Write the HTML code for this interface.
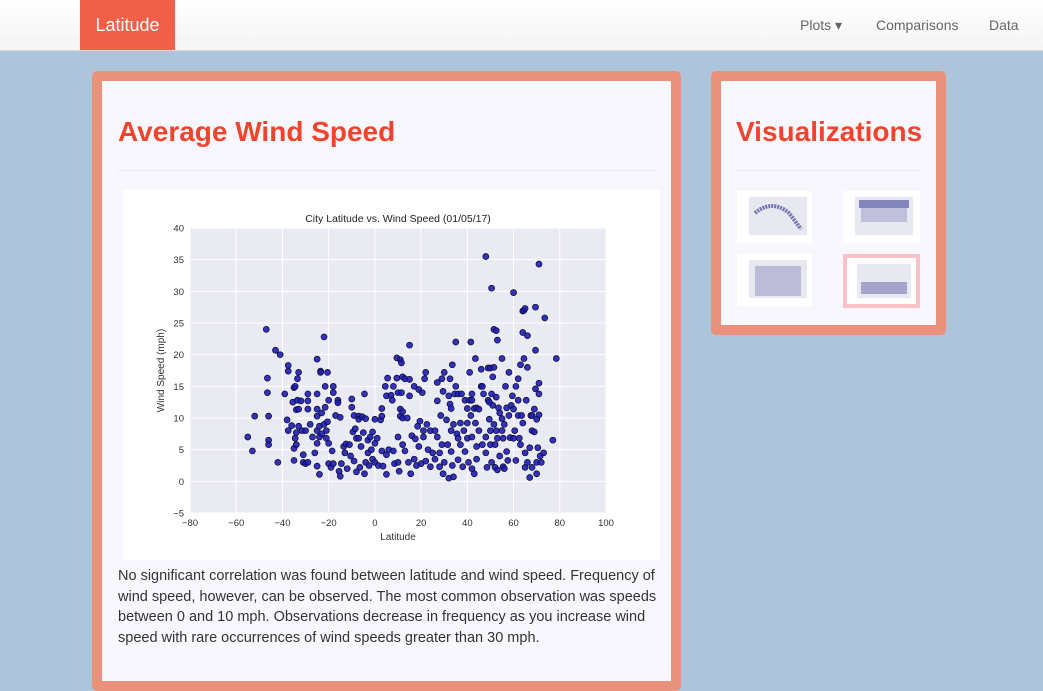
<!DOCTYPE html>
<html><head><meta charset="utf-8"><style>
body{margin:0;width:1043px;height:680px;overflow:hidden;background:#adc4db;font-family:"Liberation Sans",sans-serif;position:relative}
.nav{position:absolute;left:0;top:0;width:1043px;height:50px;background:linear-gradient(#fff,#f4f4f4);border-bottom:1px solid #d8d8d8}
.brand{position:absolute;left:80px;top:0;width:95px;height:50px;background:#f05f48;color:#fff;font-size:18px;line-height:50px;text-align:center}
.ni{position:absolute;top:17px;font-size:14px;color:#666}
.panel{position:absolute;background:#f8f7fe;border:10px solid #ea917b;border-radius:5px;box-sizing:border-box}
h1{position:absolute;margin:0;font-weight:bold;color:#f2442c;font-size:28px}
.hr{position:absolute;height:1px;background:#e6e6ec}
p{position:absolute;margin:0;font-size:14.5px;line-height:20.5px;color:#333}
.th{position:absolute;background:#fff}
</style></head><body>
<div class="nav">
<div class="brand">Latitude</div>
<div class="ni" style="left:800px">Plots ▾</div>
<div class="ni" style="left:876px">Comparisons</div>
<div class="ni" style="left:989px">Data</div>
</div>
<div class="panel" style="left:92px;top:71px;width:589px;height:620px"></div>
<h1 style="left:118px;top:116px">Average Wind Speed</h1>
<div class="hr" style="left:118px;top:170px;width:538px"></div>
<svg id="chart" style="position:absolute;left:123px;top:190px" width="537" height="370"></svg>
<p style="left:118px;top:566px;width:540px">No significant correlation was found between latitude and wind speed. Frequency of wind speed, however, can be observed. The most common observation was speeds between 0 and 10 mph. Observations decrease in frequency as you increase wind speed with rare occurrences of wind speeds greater than 30 mph.</p>
<div class="panel" style="left:711px;top:71px;width:235px;height:264px"></div>
<h1 style="left:736px;top:116px">Visualizations</h1>
<div class="hr" style="left:737px;top:170px;width:183px"></div>
<svg class="th" style="left:737px;top:191px" width="75" height="52"><rect x="12" y="6" width="58" height="38" fill="#e8e8f0"/><path d="M18 22 Q35 8 52 22 L64 38" stroke="#22228a" stroke-width="4" fill="none" opacity=".6" stroke-dasharray="2 1"/></svg>
<svg class="th" style="left:843px;top:191px" width="77" height="52"><rect x="12" y="6" width="58" height="38" fill="#e8e8f0"/><rect x="16" y="9" width="50" height="8" fill="#22228a" opacity=".5"/><rect x="18" y="17" width="46" height="14" fill="#22228a" opacity=".2"/></svg>
<svg class="th" style="left:737px;top:254px" width="75" height="52"><rect x="12" y="6" width="58" height="38" fill="#e8e8f0"/><rect x="18" y="12" width="46" height="30" fill="#22228a" opacity=".22"/></svg>
<svg class="th" style="left:843px;top:254px;outline:4px solid #fbc0c8;outline-offset:-4px" width="77" height="54"><rect x="14" y="10" width="54" height="34" fill="#e8e8f0"/><rect x="18" y="28" width="46" height="12" fill="#22228a" opacity=".35"/></svg>
<script>
const lats=[-55,-53,-52,-47,-46.5,-46.5,-46,-46,-46,-43,-42,-41,-39,-38,-37.5,-37.5,-37.5,-36,-35.5,-35,-35,-35,-34.5,-34.5,-34,-34,-34,-33.5,-33.5,-33,-33,-33,-32,-31.5,-31,-31,-30,-30,-29,-29,-29,-29,-28,-27,-26,-25,-25,-25,-25,-25,-25,-25,-24,-24,-24,-23.5,-23.5,-23,-23,-22,-22,-21.5,-21.5,-21,-21,-20.5,-20.5,-20,-20,-20,-19,-18.5,-18,-18,-18,-17,-16,-16,-15.5,-15,-15,-14.5,-13.5,-13,-12.5,-12,-11,-10.5,-10,-10,-9.5,-9,-9,-8.5,-8,-8,-7,-7,-7,-6.5,-6,-5.5,-5,-4.5,-4.5,-4,-4,-3,-3,-2.5,-2,-1.5,-1,-1,0,0,0,1,1.5,2.5,3,3,3,3.5,4.5,5,5,5,5.5,6,7,7.5,8,8,8.5,9.5,9.5,10,10,10,10.5,11,11,11,11.5,11.5,12,12,12,12,13,13,14,14.5,15,15,15,15.5,16,17,17,17.5,18,18.5,19,19,19.5,20,20.5,21,21,21.5,22,22,22.5,23,24,24,25,26,26,27,27,27,28,28,28.5,29,29,29.5,29.5,30,30,31,31.5,32,32,32.5,32.5,33,33,33,33.5,33.5,34,34,34.5,35,35,35.5,36,36,36,37,37,37.5,38,38.5,39,39,40,40,40,40.5,41,41,41.5,41.5,42,42,42,42,43,43,43.5,43.5,44,44,44,45,45,46,46,46.5,46.5,47,48,48,48,48.5,49,49,49.5,49.5,50,50,50,50.5,50.5,50.5,51,51,51.5,51.5,51.5,52,52,52.5,52.5,52.5,53,53,53,53.5,54,54,55,55,55,55.5,55.5,56,56,56.5,57,57,57.5,58,58,58.5,59,59.5,60,60,60,60.5,61,61,62,62,62,62.5,63,63,63.5,64,64,64,64.5,64.5,65,65,65,65.5,66,66,66,67,67,67.5,68,68,68,69,69,69.5,69.5,69.5,70,70,70,70.5,71,71,71,71,71.5,72,73,73.5,77,78.5];
const winds=[7,4.8,10.3,24,16.3,14,10.3,6.5,5.8,20.7,3,20,13.8,9.7,18.3,17.4,8,8.8,12.5,14.8,5.2,3.3,15,6.8,5.8,7.7,11.3,16.2,12.8,17.2,11.4,8.7,12.7,8,4.2,3,8,2.8,13.8,12.7,11.4,3,9,7,4.5,19.3,13.8,11.4,10.3,8,6,2.4,7,8.7,1.1,17.4,17.2,10.8,7.5,22.8,9,11.7,15,8,6.8,17.2,9.4,12.8,6,2.8,2.2,4.8,15,14,2.8,10.4,12.8,12.4,1.6,0.8,10.1,2.8,5.5,4.5,5.9,2,5.8,4,13,11.7,7.8,10.4,3.2,8.3,6.8,1.5,10.3,9.8,6.8,2.2,5.5,10.2,7.7,13.8,1.2,9.9,3,6.5,4.5,2.5,7,5,7.8,3.5,9.8,6,3,6.8,2.5,9.7,11.5,10.3,4.8,2.4,15,13.5,4.2,1.1,16.3,5,13.6,12.8,15,4.8,2.8,19.5,16.3,14,7,3,1.6,19.2,11.4,10.3,18.7,14,16.5,11,10,5.8,16.2,4.8,10,3,21.5,16.1,13.5,1.2,7.2,15,3.5,6.7,2.5,8.7,14.5,5.5,9.5,2.8,14,8,7,16.2,17.2,3.2,9,5,2.3,8,4.5,8,3.5,15.6,12.7,7,4.5,2.3,10.4,16.2,5.8,14.2,1.2,17.2,3,9.7,5.8,13.5,0.5,16.2,12.2,11.5,8,4.7,18.4,2.5,0.7,9,13.8,15,22,7.5,13.8,6.8,3.4,9.2,5.8,13.8,2.3,8,12.8,4.7,11.5,6.8,9.2,3,17.2,12.8,22,10.4,13.8,12.8,7,2,11.5,1.2,19.4,9.2,11.6,5.5,3.5,8,11.4,15,17.7,15,5.8,13.8,35.5,7,4.5,2.2,12.8,17.9,12.5,9.8,8,17.9,5.8,30.5,13.8,3,12,16.5,24,18,9,5.8,2.2,23.8,13.3,8,22.3,6.8,1.8,11.6,10.8,4,19.4,9.9,8,2.3,6.8,9,2,15,11.6,4.7,3.3,17.2,10.4,6.9,12,13.5,29.8,11.4,6.8,8,15,3.3,16.2,12.8,10.4,6.8,18.4,5.8,10.4,26.9,23.5,9.2,19.4,27,27.3,4.5,2.2,12.8,23,18,3,0.6,5.3,10.4,10.4,8,2.2,7.8,11.4,27.5,20.7,14.6,9.8,1.2,3,5.3,34.3,15.5,13.8,10.5,4,3,4.5,25.8,6.5,19.4];
const xTicks=[-80,-60,-40,-20,0,20,40,60,80,100];
const yTicks=[-5,0,5,10,15,20,25,30,35,40];
const svg=document.getElementById('chart'),NS='http://www.w3.org/2000/svg';
const L=67,T=38,W=416,H=285;
const sx=v=>L+(v+80)/180*W, sy=v=>T+(40-v)/45*H;
function mk(t,a,txt){const e=document.createElementNS(NS,t);for(const k in a)e.setAttribute(k,a[k]);if(txt!==undefined)e.textContent=txt;svg.appendChild(e);return e;}
let bg=mk('rect',{x:0,y:0,width:537,height:370,fill:'#fff'});


let pa=mk('rect',{x:L,y:T,width:W,height:H,fill:'#eaeaf2'});


xTicks.forEach(v=>{mk('line',{x1:sx(v),x2:sx(v),y1:T,y2:T+H,stroke:'#fff','stroke-width':1});
let t=mk('text',{x:sx(v),y:T+H+13,'font-size':9.5,'text-anchor':'middle',fill:'#333'},v<0?'\u2212'+(-v):v);

});
yTicks.forEach(v=>{mk('line',{x1:L,x2:L+W,y1:sy(v),y2:sy(v),stroke:'#fff','stroke-width':1});
let t=mk('text',{x:L-6,y:sy(v)+3.5,'font-size':9.5,'text-anchor':'end',fill:'#333'},v<0?'\u2212'+(-v):v);

});
lats.forEach((la,i)=>{let c=mk('circle',{cx:sx(la),cy:sy(winds[i]),r:3,fill:'#1e1eb4','fill-opacity':0.9,stroke:'#0a0a30','stroke-width':0.7});

});
let tt=mk('text',{x:L+W/2,y:T-6,'font-size':10.5,'text-anchor':'middle',fill:'#222'},'City Latitude vs. Wind Speed (01/05/17)');


let xt=mk('text',{x:L+W/2,y:T+H+27,'font-size':10,'text-anchor':'middle',fill:'#333'},'Latitude');


let yt=mk('text',{x:0,y:0,'font-size':10,'text-anchor':'middle',fill:'#333',transform:`translate(${L-26},${T+H/2}) rotate(-90)`},'Wind Speed (mph)');


</script>
</body></html>
